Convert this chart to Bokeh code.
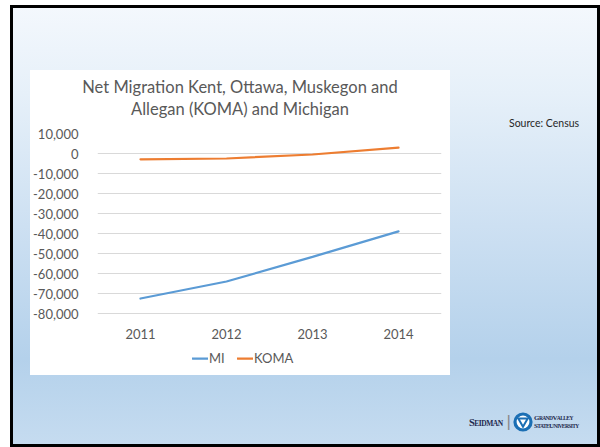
from bokeh.plotting import figure
from bokeh.models import (FactorRange, Range1d, FixedTicker, NumeralTickFormatter,
                          Legend, LegendItem, ColumnDataSource, Div, Spacer)
from bokeh.layouts import column, row
from bokeh.embed import file_html
from bokeh.resources import INLINE

# ---- data ----
years = ["2011", "2012", "2013", "2014"]
mi = [-72500, -64000, -51700, -38900]
koma = [-2900, -2500, -500, 2900]
y_ticks = [10000, 0, -10000, -20000, -30000, -40000, -50000, -60000, -70000, -80000]
title_lines = ["Net Migration Kent, Ottawa, Muskegon and", "Allegan (KOMA) and Michigan"]
series_names = ["MI", "KOMA"]
source_note = "Source: Census"

FONT = "Lato"
GREY = "#595959"

src = ColumnDataSource(dict(year=years, mi=mi, koma=koma))

# frame extends below the lowest tick so the legend can sit inside it
p = figure(frame_width=346, frame_height=239, x_range=FactorRange(*years),
           y_range=Range1d(-109500, 10000), output_backend="svg",
           toolbar_location=None,
           min_border_left=65, min_border_right=9,
           min_border_top=10, min_border_bottom=30)
p.border_fill_color = None
p.background_fill_color = "white"
p.outline_line_color = None
p.styles = {"background": "linear-gradient(to bottom, #ffffff 0px, #ffffff 252px, "
                          "rgba(255,255,255,0) 252px)"}

r_mi = p.line("year", "mi", source=src, line_color="#5B9BD5", line_width=2.25, line_cap="round")
r_koma = p.line("year", "koma", source=src, line_color="#ED7D31", line_width=2.25, line_cap="round")

p.yaxis.ticker = FixedTicker(ticks=y_ticks)
p.yaxis.formatter = NumeralTickFormatter(format="0,0")
for ax in (p.xaxis[0], p.yaxis[0]):
    ax.axis_line_color = None
    ax.major_tick_line_color = None
    ax.minor_tick_line_color = None
    ax.major_label_text_font = FONT
    ax.major_label_text_font_size = "13px"
    ax.major_label_text_color = GREY
p.yaxis.major_label_standoff = 13
p.xaxis.fixed_location = y_ticks[-1]
p.xaxis.major_label_standoff = 9

p.xgrid.grid_line_color = None
p.ygrid.grid_line_color = "#D9D9D9"
p.ygrid.grid_line_width = 1

legend = Legend(items=[LegendItem(label=series_names[0], renderers=[r_mi]),
                       LegendItem(label=series_names[1], renderers=[r_koma])],
                orientation="horizontal", location=(95, 6),
                glyph_width=16, glyph_height=14, label_height=14,
                label_standoff=1, spacing=8, padding=2, margin=0,
                border_line_color=None, background_fill_alpha=0,
                label_text_font=FONT, label_text_font_size="13px",
                label_text_color=GREY)
p.add_layout(legend)

title_div = Div(text="<br>".join(title_lines), width=420, height=53, margin=0,
                styles={"background": "white", "text-align": "center",
                        "font-family": "Lato", "font-size": "16.5px",
                        "line-height": "21.6px", "color": GREY,
                        "padding-top": "7px", "box-sizing": "border-box"})

chart = column(title_div, p, width=420, height=332, spacing=0, margin=0)

source_div = Div(text=source_note, width=80, height=16, margin=0,
                 styles={"font-family": "Lato", "font-size": "10.5px",
                         "line-height": "16px", "color": "#262626",
                         "white-space": "nowrap"})
source_col = column(Spacer(width=80, height=45, margin=0), source_div,
                    width=80, height=61, spacing=0, margin=0)

logo_html = (
    '<div style="display:flex;align-items:center;font-family:\'Liberation Serif\';'
    'color:#1f2a4f;white-space:nowrap">'
    '<span style="font-size:10.5px;font-weight:bold;letter-spacing:-0.5px">S'
    '<span style="font-size:7.5px">EIDMAN</span></span>'
    '<span style="color:#8a8a8a;font-size:17px;margin:0 2px 0 4px;'
    'font-family:\'Liberation Sans\'">|</span>'
    '<svg width="20" height="20" viewBox="0 0 20 20" style="margin-right:1px">'
    '<circle cx="10" cy="10" r="8" fill="white" stroke="#1b6fb4" stroke-width="3.2"/>'
    '<path d="M5.3 6.6 L14.7 6.6 L10 14.8 Z" fill="none" stroke="#1b6fb4" stroke-width="2"/>'
    '</svg>'
    '<span style="font-size:7px;line-height:8px;font-weight:bold;letter-spacing:-0.6px">'
    'G<span style="font-size:5.5px">RAND</span>V<span style="font-size:5.5px">ALLEY</span><br>'
    'S<span style="font-size:5.5px">TATE</span>U<span style="font-size:5.5px">NIVERSITY</span>'
    '</span></div>')
logo_div = Div(text=logo_html, width=110, height=26, margin=0)

mid_row = row(Spacer(width=20, height=332, margin=0), chart,
              Spacer(width=59, height=332, margin=0), source_col,
              width=579, height=332, spacing=0, margin=0)
bottom_row = row(Spacer(width=459, height=26, margin=0), logo_div,
                 width=569, height=26, spacing=0, margin=0)

slide = column(Spacer(width=590, height=65, margin=0), mid_row,
               Spacer(width=590, height=8, margin=0), bottom_row,
               width=590, height=442, spacing=0, margin=0,
               styles={"background": "linear-gradient(to bottom, #f4f8fd 0%, #e6f0f9 20%, "
                                     "#cde0f2 50%, #b4d1eb 80%, #c6dcf0 100%)",
                       "box-shadow": "inset 0 0 0 3px black"})

root = column(Spacer(width=600, height=5, margin=0),
              row(Spacer(width=10, height=442, margin=0), slide,
                  width=600, height=442, spacing=0, margin=0),
              width=600, height=447, spacing=0, margin=0)

open("out.html", "w").write(file_html(root, INLINE))
